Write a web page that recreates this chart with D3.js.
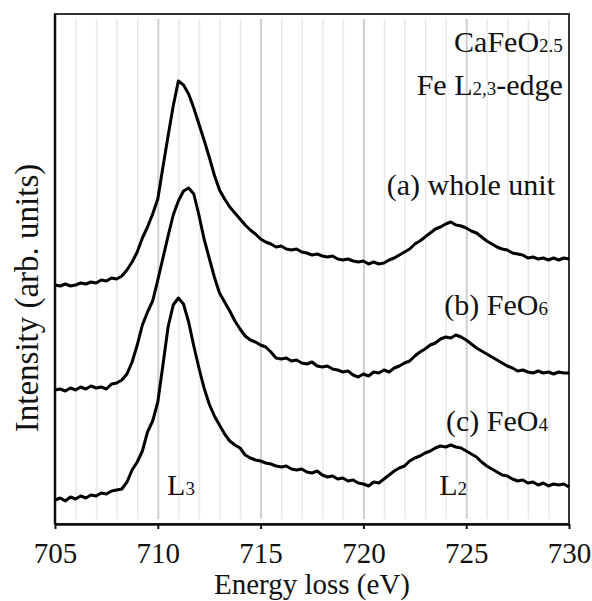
<!DOCTYPE html>
<html>
<head>
<meta charset="utf-8">
<script src="https://cdn.jsdelivr.net/npm/d3@7"></script>
<style>
  body { margin: 0; background: #fff; }
  svg text { font-family: "Liberation Serif", "Times New Roman", Times, "DejaVu Serif", serif; fill: #111; }
</style>
</head>
<body>
<svg id="chart"></svg>
<script>
// energy grid (eV), 0.25 eV steps
var energy = [
  705, 705.25, 705.5, 705.75, 706, 706.25, 706.5, 706.75, 707, 707.25, 707.5, 707.75,
  708, 708.25, 708.5, 708.75, 709, 709.25, 709.5, 709.75, 710, 710.25, 710.5, 710.75,
  711, 711.25, 711.5, 711.75, 712, 712.25, 712.5, 712.75, 713, 713.25, 713.5, 713.75,
  714, 714.25, 714.5, 714.75, 715, 715.25, 715.5, 715.75, 716, 716.25, 716.5, 716.75,
  717, 717.25, 717.5, 717.75, 718, 718.25, 718.5, 718.75, 719, 719.25, 719.5, 719.75,
  720, 720.25, 720.5, 720.75, 721, 721.25, 721.5, 721.75, 722, 722.25, 722.5, 722.75,
  723, 723.25, 723.5, 723.75, 724, 724.25, 724.5, 724.75, 725, 725.25, 725.5, 725.75,
  726, 726.25, 726.5, 726.75, 727, 727.25, 727.5, 727.75, 728, 728.25, 728.5, 728.75,
  729, 729.25, 729.5, 729.75, 730
];

// (a) whole unit, stacked intensity (arb. units)
var wholeUnit = [
  239, 238, 240, 238, 239, 241, 240, 242, 241, 244, 243, 246,
  245, 248, 254, 262, 272, 286, 297, 310, 325, 357, 388, 418,
  443, 439, 430, 416, 400, 384, 367, 349, 334, 325, 317, 311,
  305, 299, 294, 290, 285, 282, 280, 277, 278, 275, 274, 275,
  272, 271, 269, 270, 268, 267, 268, 265, 264, 265, 263, 262,
  263, 260, 262, 260, 261, 264, 266, 269, 272, 275, 280, 283,
  287, 291, 295, 297, 300, 302, 299, 298, 296, 293, 291, 287,
  283, 280, 277, 275, 274, 271, 270, 269, 266, 267, 265, 266,
  264, 266, 264, 266, 265
];

// (b) FeO6
var feo6 = [
  134, 135, 133, 136, 134, 137, 135, 138, 136, 137, 135, 140,
  141, 144, 150, 162, 179, 199, 212, 223, 244, 266, 288, 309,
  323, 333, 336, 330, 309, 285, 266, 247, 231, 222, 213, 203,
  195, 188, 184, 182, 179, 177, 172, 166, 165, 166, 163, 164,
  161, 160, 162, 158, 157, 158, 155, 154, 152, 153, 149, 147,
  150, 148, 152, 151, 154, 152, 156, 158, 161, 163, 168, 172,
  175, 179, 181, 185, 187, 186, 189, 187, 184, 180, 176, 173,
  170, 167, 164, 161, 158, 156, 153, 154, 152, 151, 153, 151,
  152, 150, 152, 151, 151
];

// (c) FeO4
var feo4 = [
  24, 26, 23, 27, 25, 28, 26, 29, 28, 31, 30, 33,
  34, 35, 42, 54, 62, 73, 92, 103, 122, 159, 197, 219,
  226, 220, 202, 178, 156, 136, 120, 108, 99, 90, 83, 79,
  76, 69, 66, 64, 63, 61, 60, 58, 57, 58, 55, 54,
  55, 52, 51, 53, 49, 47, 48, 45, 46, 43, 44, 41,
  40, 38, 42, 41, 45, 49, 53, 56, 58, 63, 66, 68,
  71, 73, 76, 78, 77, 79, 77, 76, 73, 70, 67, 62,
  58, 55, 52, 49, 48, 45, 43, 44, 41, 42, 39, 41,
  38, 40, 39, 40, 37
];

var xTickValues = [705, 710, 715, 720, 725, 730];
var gridValues = [706, 707, 708, 709, 710, 711, 712, 713, 714, 715, 716, 717,
                  718, 719, 720, 721, 722, 723, 724, 725, 726, 727, 728, 729];

var serif = "'Liberation Serif', 'Times New Roman', Times, 'DejaVu Serif', serif";

var width = 592,
    height = 601;

var svg = d3.select("#chart")
    .attr("width", width)
    .attr("height", height)
    .attr("font-family", serif);

var margin = {top: 14, right: 23, bottom: 77, left: 55},
    w = width - margin.left - margin.right,
    h = height - margin.top - margin.bottom;

var x = d3.scaleLinear().domain([705, 730]).range([0, w]),
    y = d3.scaleLinear().domain([0, 510]).range([h, 0]);

var g = svg.append("g")
    .attr("transform", "translate(" + margin.left + "," + margin.top + ")");

// vertical grid, inset a few px from the frame
var grid = g.append("g")
    .attr("class", "grid")
    .attr("transform", "translate(0," + (h - 5) + ")")
    .call(d3.axisBottom(x).tickValues(gridValues).tickSize(-(h - 10)).tickFormat(""));
grid.select(".domain").remove();
grid.selectAll("line")
    .attr("stroke", function(d) { return d % 5 === 0 ? "#cfcfcf" : "#e9e9e9"; })
    .attr("stroke-width", function(d) { return d % 5 === 0 ? 2 : 1.6; });

// frame
g.append("rect")
    .attr("width", w)
    .attr("height", h)
    .attr("fill", "none")
    .attr("stroke", "#333")
    .attr("stroke-width", 2);

g.append("line")
    .attr("x1", 0).attr("x2", 0)
    .attr("y1", 0).attr("y2", h)
    .attr("stroke", "#111")
    .attr("stroke-width", 2.5);

// x axis
var xAxis = g.append("g")
    .attr("class", "axis axis--x")
    .attr("transform", "translate(0," + h + ")")
    .call(d3.axisBottom(x).tickValues(xTickValues).tickSize(5).tickSizeOuter(0).tickPadding(13));
xAxis.attr("font-family", serif);
xAxis.select(".domain").attr("stroke", "#111").attr("stroke-width", 2.5);
xAxis.selectAll(".tick line").attr("stroke", "#111").attr("stroke-width", 2);
xAxis.selectAll(".tick text")
    .style("font-family", serif)
    .style("font-size", "29px")
    .attr("fill", "#111");

// spectra
var line = d3.line()
    .x(function(d, i) { return x(energy[i]); })
    .y(function(d) { return y(d); });

g.selectAll(".spectrum")
    .data([wholeUnit, feo6, feo4])
    .enter().append("path")
    .attr("class", "spectrum")
    .attr("fill", "none")
    .attr("stroke", "#000")
    .attr("stroke-width", 3)
    .attr("stroke-linejoin", "round")
    .attr("d", line);

// text labels: [main, small] parts, anchored in data coords
function label(parts, ex, iv, anchor, size) {
    var t = g.append("text")
        .attr("x", x(ex))
        .attr("y", y(iv))
        .attr("text-anchor", anchor)
        .style("font-family", serif)
        .style("font-size", size + "px");
    parts.forEach(function(p, i) {
        t.append("tspan")
            .style("font-size", (i % 2 ? Math.round(size * 0.62) : size) + "px")
            .text(p);
    });
}

label(["CaFeO", "2.5"], 729.7, 472, "end", 30);
label(["Fe L", "2,3", "-edge"], 729.7, 429, "end", 30);
label(["(a) whole unit"], 729.32, 329, "end", 30);
label(["(b) FeO", "6"], 728.98, 209, "end", 30);
label(["(c) FeO", "4"], 728.98, 93, "end", 30);
label(["L", "3"], 711.13, 29, "middle", 30);
label(["L", "2"], 724.36, 29, "middle", 30);

// axis titles
svg.append("text")
    .attr("x", margin.left + w / 2)
    .attr("y", 594)
    .attr("text-anchor", "middle")
    .style("font-family", serif)
    .style("font-size", "29px")
    .text("Energy loss (eV)");

svg.append("text")
    .attr("transform", "translate(38," + 298 + ") rotate(-90)")
    .attr("text-anchor", "middle")
    .style("font-family", serif)
    .style("font-size", "33px")
    .text("Intensity (arb. units)");
</script>
</body>
</html>
